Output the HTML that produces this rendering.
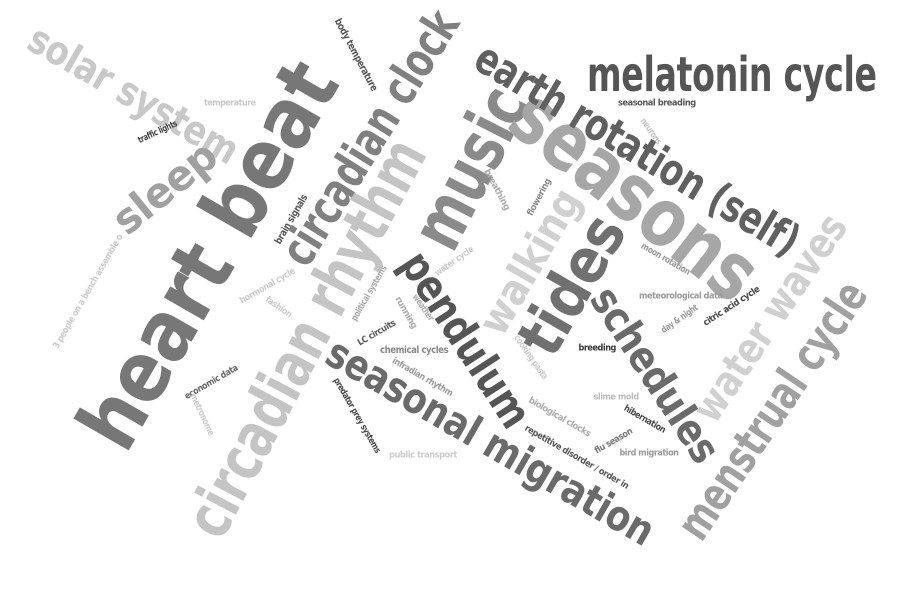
<!DOCTYPE html>
<html><head><meta charset="utf-8">
<style>
html,body{margin:0;padding:0;background:#fff;}
#cloud{position:relative;width:914px;height:599px;overflow:hidden;background:#fff;}
#cloud span{position:absolute;left:0;top:0;white-space:nowrap;line-height:1;font-family:"DejaVu Sans","Liberation Sans",sans-serif;font-weight:bold;transform-origin:0 0;letter-spacing:-0.5px;}
</style></head>
<body>
<div id="cloud"></div>
<script>
const words = ["heart beat","circadian rhythm","circadian clock","music","seasons","earth rotation (self)","melatonin cycle","solar system","sleep","tides","walking","pendulum","schedules","seasonal migration","water waves","menstrual cycle",
"body temperature","temperature","traffic lights","brain signals","seasonal breading","neurons","breathing","flowering","moon rotation","water cycle","hormonal cycle","fashion","political systems","running","weather","LC circuits","chemical cycles","infradian rhythm","predator prey systems","public transport","3 people on a bench assemble o","economic data","metronome","meteorological data","day & night","citric acid cycle","breeding","cooking pasta","slime mold","hibernation","biological clocks","repetitive disorder / order in","flu season","bird migration"];
const centerX = [208,306,370,470,635,637,732,133,165,572,530,465,655,490,770,772, 355,230,158,292,657,650,496,540,665,455,268,278,370,405,422,377,414,422,356,423,89,212,201,681,680,732,597,530,616,644,559,576,614,649];
const centerY = [255,338,138,168,195,150,75,95,188,285,262,340,375,442,318,410, 55,104,133,220,104,132,190,198,260,262,287,308,294,313,308,334,351,378,416,456,292,383,415,297,320,307,349,358,398,420,418,458,442,454];
const angles = [-60,-62,-58,-63,38,31,0,30,-39,-60,-60,57,57,30,-56,-56, 62,0,-25,-60,0,55,62,-62,30,-35,-30,35,-60,60,55,-30,0,30,60,0,-60,-30,65,0,-35,-33,0,55,0,30,30,30,-30,0];
const lengths = [430,440,290,170,290,370,290,235,120,150,160,200,200,370,240,300, 80,52,42,55,78,30,45,40,55,45,62,30,62,35,30,42,68,68,85,68,130,60,45,84,42,65,37,52,45,46,70,118,42,59];
const sizes = [84,62,48,70,80,44,48,40,42,62,42,44,42,42,42,46, 10,9,9,10,9,9,9,9,9,9,9,9,9,9,9,9,10,9,9,9,9,9,9,9,9,9,9,9,9,9,9,9,9,9];
const colors = ["#777","#c4c4c4","#808080","#8a8a8a","#a6a6a6","#606060","#555","#c8c8c8","#a0a0a0","#707070","#d0d0d0","#555","#6a6a6a","#6a6a6a","#d0d0d0","#a0a0a0",
"#555","#c8c8c8","#444","#555","#555","#c8c8c8","#aaa","#888","#999","#ccc","#ccc","#ccc","#aaa","#aaa","#aaa","#555","#888","#999","#444","#ccc","#ccc","#666","#ccc","#999","#999","#444","#333","#ccc","#bbb","#444","#aaa","#555","#777","#999"];

const cloud = document.getElementById('cloud');
for (let i = 0; i < words.length; i++) {
  const el = document.createElement('span');
  el.textContent = words[i];
  
  
  el.style.fontSize = sizes[i] + 'px';
  el.style.color = colors[i];
  cloud.appendChild(el);
  const w = el.offsetWidth, h = el.offsetHeight;
  const sx = lengths[i] / w;
  el.style.transform = 'translate(' + centerX[i] + 'px,' + centerY[i] + 'px) rotate(' + angles[i] + 'deg) scale(' + sx + ',1) translate(' + (-w/2) + 'px,' + (-h/2) + 'px)';
}
</script>
</body></html>
